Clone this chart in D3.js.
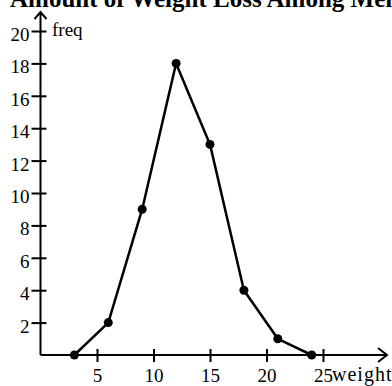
<!DOCTYPE html>
<html>
<head>
<meta charset="utf-8">
<script src="https://cdn.jsdelivr.net/npm/d3@7"></script>
<style>
  body { margin: 0; background: #fff; }
  svg { display: block; }
</style>
</head>
<body>
<div id="app"></div>
<script>
;(() => {

    // chart values
    const weights = [3, 6, 9, 12, 15, 18, 21, 24]
    const freqs = [0, 2, 9, 18, 13, 4, 1, 0]
    const xTicks = [5, 10, 15, 20, 25]
    const yTicks = [2, 4, 6, 8, 10, 12, 14, 16, 18, 20]

    const title = 'Amount of Weight Loss Among Members'
    const xName = 'weight'
    const yName = 'freq'

    const width = 392
    const height = 386
    const serif = "'Liberation Serif'"

    const x_scale = d3.scaleLinear()
        .domain([0, 25])
        .range([40.5, 323])

    const y_scale = d3.scaleLinear()
        .domain([0, 20])
        .range([355, 31])

    const svg = d3.create('svg')
        .attr('viewBox', [0, 0, width, height])
        .attr('width', width)
        .attr('height', height)

    // title, clipped at the top like the original
    svg.append('text')
        .attr('x', 10)
        .attr('y', 7)
        .style('font-family', serif)
        .style('font-size', '25px')
        .style('font-weight', 'bold')
        .attr('fill', '#000')
        .text(title)

    // y axis
    const yAxis = svg.append('g')
        .attr('transform', `translate(${x_scale(0)}, 0)`)
        .call(d3.axisLeft(y_scale).tickValues(yTicks).tickSize(0))

    yAxis.select('.domain').remove()
    yAxis.selectAll('.tick line')
        .attr('x1', -9)
        .attr('x2', 6)
        .attr('stroke', '#000')
        .attr('stroke-width', 2)
    yAxis.selectAll('.tick text')
        .attr('x', -11)
        .attr('dy', '0.5em')
        .style('font-family', serif)
        .style('font-size', '19px')
        .attr('fill', '#000')

    // x axis
    const xAxis = svg.append('g')
        .attr('transform', `translate(0, ${y_scale(0)})`)
        .call(d3.axisBottom(x_scale).tickValues(xTicks).tickSize(0))

    xAxis.select('.domain').remove()
    xAxis.selectAll('.tick line')
        .attr('y1', -6)
        .attr('y2', 7)
        .attr('stroke', '#000')
        .attr('stroke-width', 2)
    xAxis.selectAll('.tick text')
        .attr('y', 27)
        .attr('dy', 0)
        .style('font-family', serif)
        .style('font-size', '19px')
        .attr('fill', '#000')

    // axis lines with open arrow heads
    const x0 = x_scale(0)
    const y0 = y_scale(0)
    const yTop = 12
    const xEnd = 387

    svg.append('path')
        .attr('d', `M${x0},${y0}V${yTop}M${x0 - 6},${yTop + 7}L${x0},${yTop}L${x0 + 6},${yTop + 7}`)
        .attr('fill', 'none')
        .attr('stroke', '#000')
        .attr('stroke-width', 2)

    svg.append('path')
        .attr('d', `M${x0},${y0}H${xEnd}M${xEnd - 9},${y0 - 7}L${xEnd},${y0}L${xEnd - 9},${y0 + 7}`)
        .attr('fill', 'none')
        .attr('stroke', '#000')
        .attr('stroke-width', 2)

    // axis names
    svg.append('text')
        .attr('x', 52)
        .attr('y', 36)
        .style('font-family', serif)
        .style('font-size', '19px')
        .attr('fill', '#000')
        .text(yName)

    svg.append('text')
        .attr('x', 332)
        .attr('y', 381)
        .style('font-family', serif)
        .style('font-size', '20px')
        .style('letter-spacing', '1px')
        .attr('fill', '#000')
        .text(xName)

    // frequency polygon
    const points = weights.map((w, i) => ({ w: w, f: freqs[i] }))

    svg.append('path')
        .datum(points)
        .attr('d', d3.line()
            .x(d => x_scale(d.w))
            .y(d => y_scale(d.f))
        )
        .attr('fill', 'none')
        .attr('stroke', '#000')
        .attr('stroke-width', 2.5)
        .attr('stroke-linejoin', 'round')

    svg.append('g')
        .selectAll('circle')
        .data(points)
        .join('circle')
        .attr('cx', d => x_scale(d.w))
        .attr('cy', d => y_scale(d.f))
        .attr('r', 4.5)
        .attr('fill', '#000')

    d3.select('#app').append(() => svg.node())

})()
</script>
</body>
</html>
